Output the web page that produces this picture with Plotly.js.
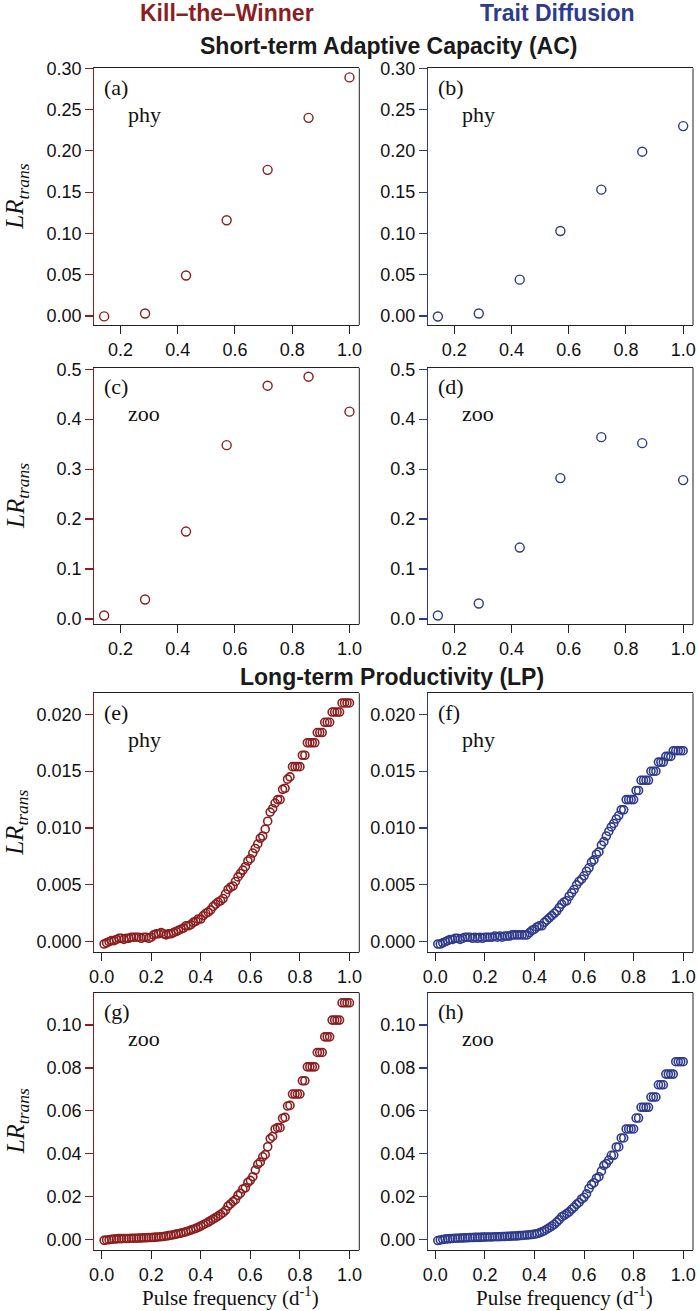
<!DOCTYPE html>
<html>
<head>
<meta charset="utf-8">
<script src="https://cdn.plot.ly/plotly-3.0.1.min.js"></script>
<style>html,body{margin:0;padding:0;background:#fff;}#chart{width:697px;height:1311px;}</style>
</head>
<body>
<div id="chart"></div>
<script>
// ---------------- DATA ----------------
const acFreq = [0.143, 0.286, 0.429, 0.571, 0.714, 0.857, 1.0];
const acPhyKTW = [-0.0005, 0.003, 0.049, 0.116, 0.177, 0.240, 0.289];
const acPhyTD  = [-0.0006, 0.003, 0.044, 0.103, 0.153, 0.199, 0.230];
const acZooKTW = [0.007, 0.039, 0.175, 0.348, 0.467, 0.485, 0.415];
const acZooTD  = [0.007, 0.031, 0.143, 0.282, 0.364, 0.352, 0.278];

const lpFreq = [0.01,0.02,0.03,0.04,0.05,0.06,0.07,0.08,0.09,0.10,
  0.11,0.12,0.13,0.14,0.15,0.16,0.17,0.18,0.19,0.20,
  0.21,0.22,0.23,0.24,0.25,0.26,0.27,0.28,0.29,0.30,
  0.31,0.32,0.33,0.34,0.35,0.36,0.37,0.38,0.39,0.40,
  0.41,0.42,0.43,0.44,0.45,0.46,0.47,0.48,0.49,0.50,
  0.51,0.52,0.53,0.54,0.55,0.56,0.57,0.58,0.59,0.60,
  0.61,0.62,0.63,0.64,0.65,0.66,0.67,0.68,0.69,0.70,
  0.71,0.72,0.73,0.74,0.75,0.76,0.77,0.78,0.79,0.80,
  0.81,0.82,0.83,0.84,0.85,0.86,0.87,0.88,0.89,0.90,
  0.91,0.92,0.93,0.94,0.95,0.96,0.97,0.98,0.99,1.00];

const lpPhyKTW = [-0.0002,-0.0001,0.0000,0.0001,0.0001,0.0002,0.0003,0.0003,0.0002,0.0003,
  0.0003,0.0004,0.0004,0.0004,0.0004,0.0003,0.0004,0.0004,0.0003,0.0004,
  0.0006,0.0007,0.0007,0.0008,0.0007,0.0006,0.0007,0.0007,0.0008,0.0009,
  0.0010,0.0011,0.0012,0.0014,0.0014,0.0015,0.0017,0.0018,0.0020,0.0020,
  0.0023,0.0025,0.0026,0.0028,0.0031,0.0033,0.0035,0.0036,0.0038,0.0042,
  0.0046,0.0048,0.0049,0.0053,0.0057,0.0060,0.0063,0.0066,0.0071,0.0073,
  0.0078,0.0082,0.0086,0.0091,0.0093,0.0099,0.0106,0.0114,0.0117,0.0122,
  0.0125,0.0125,0.0134,0.0135,0.0143,0.0145,0.0154,0.0154,0.0154,0.0154,
  0.0164,0.0164,0.0175,0.0175,0.0175,0.0175,0.0184,0.0184,0.0184,0.0193,
  0.0193,0.0193,0.0202,0.0202,0.0202,0.0202,0.0210,0.0210,0.0210,0.0210];

const lpPhyTD = [-0.0002,-0.0002,-0.0001,0.0000,0.0001,0.0002,0.0002,0.0003,0.0003,0.0002,
  0.0003,0.0004,0.0004,0.0004,0.0003,0.0004,0.0003,0.0004,0.0003,0.0004,
  0.0004,0.0004,0.0004,0.0005,0.0004,0.0005,0.0004,0.0005,0.0005,0.0005,
  0.0006,0.0006,0.0006,0.0006,0.0006,0.0006,0.0006,0.0008,0.0010,0.0011,
  0.0013,0.0014,0.0014,0.0017,0.0019,0.0021,0.0023,0.0025,0.0027,0.0030,
  0.0033,0.0035,0.0036,0.0040,0.0043,0.0046,0.0050,0.0053,0.0055,0.0058,
  0.0062,0.0065,0.0070,0.0072,0.0077,0.0079,0.0085,0.0088,0.0093,0.0097,
  0.0101,0.0104,0.0108,0.0111,0.0116,0.0116,0.0125,0.0125,0.0125,0.0125,
  0.0133,0.0133,0.0142,0.0142,0.0142,0.0142,0.0150,0.0150,0.0150,0.0158,
  0.0158,0.0158,0.0163,0.0163,0.0163,0.0168,0.0168,0.0168,0.0168,0.0168];

const lpZooKTW = [-0.0005,-0.0003,-0.0002,0.0000,0.0001,0.0002,0.0003,0.0003,0.0004,0.0004,
  0.0004,0.0005,0.0005,0.0005,0.0006,0.0006,0.0007,0.0007,0.0008,0.0008,
  0.0009,0.0010,0.0011,0.0012,0.0013,0.0015,0.0017,0.0019,0.0021,0.0024,
  0.0026,0.0029,0.0032,0.0035,0.0039,0.0043,0.0047,0.0051,0.0056,0.0062,
  0.0068,0.0074,0.0080,0.0087,0.0094,0.0101,0.0108,0.0116,0.0124,0.0135,
  0.0155,0.0165,0.0176,0.0185,0.0205,0.0215,0.0235,0.0240,0.0265,0.0275,
  0.0292,0.0323,0.0350,0.0360,0.0385,0.0395,0.0432,0.0470,0.0480,0.0515,
  0.0521,0.0521,0.0565,0.0569,0.0622,0.0625,0.0678,0.0678,0.0678,0.0678,
  0.0740,0.0740,0.0805,0.0805,0.0805,0.0805,0.0872,0.0872,0.0872,0.0945,
  0.0945,0.0945,0.1023,0.1023,0.1023,0.1023,0.1104,0.1104,0.1104,0.1104];

const lpZooTD = [-0.0006,-0.0003,-0.0001,0.0001,0.0002,0.0003,0.0004,0.0005,0.0005,0.0006,
  0.0006,0.0007,0.0007,0.0008,0.0008,0.0009,0.0009,0.0009,0.0010,0.0010,
  0.0011,0.0011,0.0011,0.0012,0.0012,0.0012,0.0013,0.0013,0.0014,0.0014,
  0.0015,0.0015,0.0016,0.0017,0.0018,0.0019,0.0020,0.0021,0.0022,0.0024,
  0.0026,0.0030,0.0035,0.0040,0.0047,0.0054,0.0062,0.0070,0.0080,0.0092,
  0.0105,0.0112,0.0120,0.0128,0.0140,0.0150,0.0163,0.0172,0.0188,0.0196,
  0.0212,0.0237,0.0255,0.0264,0.0285,0.0292,0.0318,0.0345,0.0353,0.0370,
  0.0392,0.0392,0.0431,0.0431,0.0473,0.0473,0.0515,0.0515,0.0515,0.0515,
  0.0566,0.0566,0.0616,0.0616,0.0616,0.0616,0.0664,0.0664,0.0664,0.0721,
  0.0721,0.0721,0.0771,0.0771,0.0771,0.0771,0.0829,0.0829,0.0829,0.0829];

const colTitles = ['Kill\u2013the\u2013Winner', 'Trait Diffusion'];
const sectionTitles = ['Short-term Adaptive Capacity (AC)', 'Long-term Productivity (LP)'];
const panelLetters = ['(a)','(b)','(c)','(d)','(e)','(f)','(g)','(h)'];
const groupLabels = ['phy','phy','zoo','zoo','phy','phy','zoo','zoo'];

// ---------------- LAYOUT / STYLE ----------------
const W = 697, H = 1311;
const RED = '#8B1E1E', BLUE = '#2E3A8C';
const colPx = [[94.3, 359.3], [428, 693]];
const rowPx = [[68.3, 325], [367.7, 624.3], [693.3, 952.3], [992.7, 1250]];
const px = X => X / W;
const py = Y => 1 - Y / H;

const panels = [
  {x: acFreq, y: acPhyKTW, col: 0, row: 0, kind: 'ac', yr: [-0.0109, 0.300], dt: 0.05, fmt: '.2f'},
  {x: acFreq, y: acPhyTD,  col: 1, row: 0, kind: 'ac', yr: [-0.0109, 0.300], dt: 0.05, fmt: '.2f'},
  {x: acFreq, y: acZooKTW, col: 0, row: 1, kind: 'ac', yr: [-0.0106, 0.503], dt: 0.1, fmt: '.1f'},
  {x: acFreq, y: acZooTD,  col: 1, row: 1, kind: 'ac', yr: [-0.0106, 0.503], dt: 0.1, fmt: '.1f'},
  {x: lpFreq, y: lpPhyKTW, col: 0, row: 2, kind: 'lp', yr: [-0.00093, 0.02185], dt: 0.005, fmt: '.3f'},
  {x: lpFreq, y: lpPhyTD,  col: 1, row: 2, kind: 'lp', yr: [-0.00093, 0.02185], dt: 0.005, fmt: '.3f'},
  {x: lpFreq, y: lpZooKTW, col: 0, row: 3, kind: 'lp', yr: [-0.0050, 0.1151], dt: 0.02, fmt: '.2f'},
  {x: lpFreq, y: lpZooTD,  col: 1, row: 3, kind: 'lp', yr: [-0.0050, 0.1151], dt: 0.02, fmt: '.2f'}
];

const tickFont = {family: 'Liberation Sans, Arial, sans-serif', size: 18, color: '#111'};
const serif = 'Liberation Serif, Times New Roman, serif';

const traces = [];
const layout = {
  width: W, height: H,
  margin: {l: 0, r: 0, t: 0, b: 0},
  paper_bgcolor: '#fff', plot_bgcolor: '#fff',
  showlegend: false,
  annotations: [], shapes: []
};

panels.forEach((p, i) => {
  const n = i + 1;
  const color = p.col === 0 ? RED : BLUE;
  const xa = 'xaxis' + (n === 1 ? '' : n), ya = 'yaxis' + (n === 1 ? '' : n);
  const xr = p.kind === 'ac' ? [0.1086, 1.0343] : [-0.0296, 1.0396];
  const [L, R] = colPx[p.col], [T, B] = rowPx[p.row];
  traces.push({
    type: 'scatter', mode: 'markers', x: p.x, y: p.y,
    xaxis: 'x' + (n === 1 ? '' : n), yaxis: 'y' + (n === 1 ? '' : n),
    cliponaxis: false, hoverinfo: 'x+y',
    marker: {symbol: 'circle-open', size: p.kind === 'ac' ? 9 : 8,
             color: color, line: {color: color, width: p.kind === 'ac' ? 1.4 : 1.6}}
  });
  layout[xa] = {
    domain: [px(L), px(R)], anchor: 'y' + (n === 1 ? '' : n), range: xr,
    showgrid: false, zeroline: false, showline: true, mirror: true,
    linecolor: '#222', linewidth: 1,
    ticks: 'outside', ticklen: 8, tickwidth: 1, tickcolor: '#222',
    tickmode: 'array',
    tickvals: p.kind === 'ac' ? [0.2, 0.4, 0.6, 0.8, 1.0] : [0, 0.2, 0.4, 0.6, 0.8, 1.0],
    ticktext: p.kind === 'ac' ? ['0.2','0.4','0.6','0.8','1.0'] : ['0.0','0.2','0.4','0.6','0.8','1.0'],
    tickfont: tickFont, fixedrange: true
  };
  layout[ya] = {
    domain: [py(B), py(T)], anchor: 'x' + (n === 1 ? '' : n), range: p.yr,
    showgrid: false, zeroline: false, showline: true, mirror: false,
    linecolor: color, linewidth: 1.2,
    ticks: 'outside', ticklen: 8, tickwidth: 1.2, tickcolor: color,
    tick0: 0, dtick: p.dt, tickformat: p.fmt,
    tickfont: tickFont, fixedrange: true
  };
  // right border of the box
  layout.shapes.push({type: 'line', xref: 'paper', yref: 'paper',
    x0: px(R), x1: px(R), y0: py(B), y1: py(T), line: {color: '#222', width: 1}});
  // panel letter and group label
  layout.annotations.push({xref: 'paper', yref: 'paper', x: px(L + 8), y: py(T + 19),
    xanchor: 'left', yanchor: 'middle', showarrow: false, text: panelLetters[i],
    font: {family: serif, size: 22, color: '#111'}});
  layout.annotations.push({xref: 'paper', yref: 'paper', x: px(L + 31.5), y: py(T + 46),
    xanchor: 'left', yanchor: 'middle', showarrow: false, text: groupLabels[i],
    font: {family: serif, size: 22, color: '#111'}});
  // y-axis title on left column
  if (p.col === 0) {
    layout.annotations.push({xref: 'paper', yref: 'paper', x: px(17), y: py((T + B) / 2),
      xanchor: 'center', yanchor: 'middle', showarrow: false, textangle: -90,
      text: '<i>LR</i><sub><i>trans</i></sub>',
      font: {family: serif, size: 25, color: '#111'}});
  }
  // x-axis title on bottom row
  if (p.row === 3) {
    layout.annotations.push({xref: 'paper', yref: 'paper', x: px((L + R) / 2 + 4), y: 0,
      xanchor: 'center', yanchor: 'bottom', showarrow: false, borderpad: 0,
      text: 'Pulse frequency (d<sup>-1</sup>)',
      font: {family: serif, size: 21, color: '#111'}});
  }
});

// column headers
layout.annotations.push({xref: 'paper', yref: 'paper', x: px(226.5), y: py(13), xanchor: 'center', yanchor: 'middle',
  showarrow: false, text: '<b>' + colTitles[0] + '</b>',
  font: {family: 'Liberation Sans, Arial, sans-serif', size: 23, color: RED}});
layout.annotations.push({xref: 'paper', yref: 'paper', x: px(557.5), y: py(13), xanchor: 'center', yanchor: 'middle',
  showarrow: false, text: '<b>' + colTitles[1] + '</b>',
  font: {family: 'Liberation Sans, Arial, sans-serif', size: 23, color: BLUE}});
// section titles
layout.annotations.push({xref: 'paper', yref: 'paper', x: px(388.5), y: py(46), xanchor: 'center', yanchor: 'middle',
  showarrow: false, text: '<b>' + sectionTitles[0] + '</b>',
  font: {family: 'Liberation Sans, Arial, sans-serif', size: 23, color: '#1a1a1a'}});
layout.annotations.push({xref: 'paper', yref: 'paper', x: px(392), y: py(677), xanchor: 'center', yanchor: 'middle',
  showarrow: false, text: '<b>' + sectionTitles[1] + '</b>',
  font: {family: 'Liberation Sans, Arial, sans-serif', size: 23, color: '#1a1a1a'}});

Plotly.newPlot('chart', traces, layout, {staticPlot: true, displayModeBar: false});
</script>
</body>
</html>
